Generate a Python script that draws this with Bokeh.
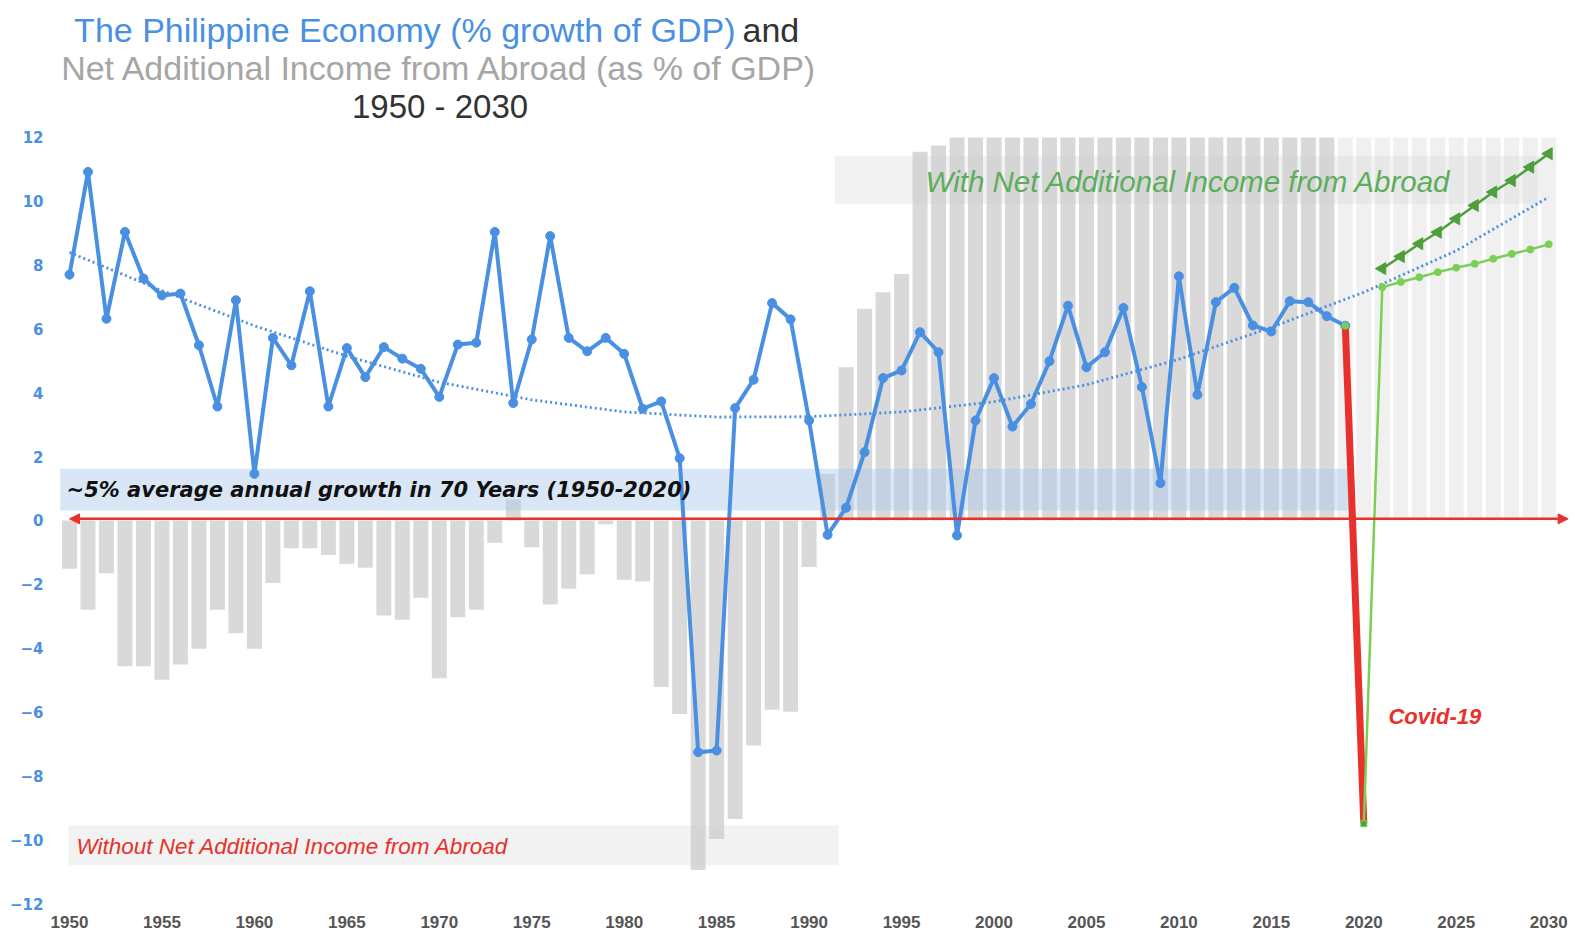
from bokeh.plotting import figure
from bokeh.models import Range1d, FixedTicker, Label, Arrow, NormalHead
from bokeh.embed import file_html
from bokeh.resources import INLINE

# ---------------- data ----------------
gdp_years = list(range(1950, 2020))
gdp_growth = [7.70, 10.92, 6.32, 9.04, 7.58, 7.05, 7.11, 5.49, 3.57, 6.90,
              1.46, 5.72, 4.86, 7.18, 3.57, 5.40, 4.49, 5.43, 5.07, 4.75,
              3.87, 5.51, 5.57, 9.04, 3.68, 5.67, 8.91, 5.72, 5.30, 5.72,
              5.22, 3.50, 3.73, 1.95, -7.26, -7.21, 3.52, 4.41, 6.81, 6.30,
              3.13, -0.45, 0.40, 2.14, 4.46, 4.70, 5.90, 5.27, -0.47, 3.13,
              4.46, 2.94, 3.65, 4.99, 6.73, 4.80, 5.27, 6.66, 4.18, 1.17,
              7.65, 3.94, 6.84, 7.29, 6.11, 5.92, 6.87, 6.84, 6.40, 6.10]

income_years = list(range(1950, 2019))
net_income = [-1.51, -2.80, -1.65, -4.57, -4.57, -4.99, -4.51, -4.02, -2.80, -3.53,
              -4.02, -1.96, -0.87, -0.87, -1.08, -1.36, -1.48, -2.98, -3.11, -2.42,
              -4.94, -3.03, -2.80, -0.70, 0.66, -0.84, -2.63, -2.14, -1.69, -0.12,
              -1.86, -1.91, -5.22, -6.06, -10.95, -9.98, -9.35, -7.05, -5.93, -5.99,
              -1.46, 1.46, 4.80, 6.63, 7.15, 7.72, 11.55, 11.75, 12.0, 12.0,
              12.0, 12.0, 12.0, 12.0, 12.0, 12.0, 12.0, 12.0, 12.0, 12.0,
              12.0, 12.0, 12.0, 12.0, 12.0, 12.0, 12.0, 12.0, 12.0]

proj_years = list(range(2019, 2031))
proj_income = [12.0, 12.0, 12.0, 12.0, 12.0, 12.0, 12.0, 12.0, 12.0, 12.0, 12.0, 12.0]

covid_years = [2019, 2020]
covid_growth = [6.10, -9.50]

rebound_years = [2020, 2021]
rebound_growth = [-9.50, 7.31]

fcst_years = list(range(2021, 2031))
fcst_with_income = [7.89, 8.27, 8.67, 9.03, 9.45, 9.87, 10.29, 10.65, 11.07, 11.49]
fcst_without_income = [7.31, 7.47, 7.62, 7.78, 7.92, 8.04, 8.20, 8.35, 8.49, 8.65]

trend_years = [1950, 1955, 1960, 1965, 1970, 1975, 1980, 1985, 1990,
               1995, 2000, 2005, 2010, 2015, 2020, 2025, 2030]
trend_values = [8.40, 7.20, 6.10, 5.15, 4.33, 3.78, 3.40, 3.24, 3.25,
                3.40, 3.72, 4.25, 5.05, 6.05, 7.15, 8.45, 10.13]

x_ticks = list(range(1950, 2031, 5))
y_ticks = list(range(-12, 13, 2))

# ---------------- styles ----------------
BLUE = "#4a90e2"
RED = "#e8312a"
LGREEN = "#7ccf55"
DGREEN = "#4f9e3c"
FONT = "Liberation Sans"
WIDE = "DejaVu Sans"

p = figure(width=1572, height=936,
           x_range=Range1d(1949.351, 2031.287), y_range=Range1d(-12, 16.29),
           min_border_left=57, min_border_right=0, min_border_top=0, min_border_bottom=33,
           output_backend="svg", toolbar_location=None)
p.outline_line_color = None
p.xgrid.visible = False
p.ygrid.visible = False

for ax in (p.xaxis[0], p.yaxis[0]):
    ax.axis_line_color = None
    ax.major_tick_line_color = None
    ax.minor_tick_line_color = None
    ax.major_tick_out = 0
    ax.major_tick_in = 0
    ax.major_label_text_font_style = "bold"

p.xaxis.ticker = FixedTicker(ticks=x_ticks)
p.xaxis.major_label_text_font = FONT
p.xaxis.major_label_text_font_size = "17px"
p.xaxis.major_label_text_color = "#555555"
p.xaxis.major_label_standoff = 12

p.yaxis.ticker = FixedTicker(ticks=y_ticks)
p.yaxis.major_label_text_font = WIDE
p.yaxis.major_label_text_font_size = "15px"
p.yaxis.major_label_text_color = BLUE
p.yaxis.major_label_standoff = 14

# bars
p.vbar(x=income_years, top=net_income, bottom=0, width=0.81,
       fill_color="#d9d9d9", line_color=None)
p.vbar(x=proj_years, top=proj_income, bottom=0, width=0.81,
       fill_color="#f0f0f0", line_color=None)

# grey label bands
p.quad(left=[1991.4, 1949.95], right=[2029.6, 1991.6], bottom=[9.92, -10.8], top=[11.43, -9.56],
       fill_color="#cccccc", fill_alpha=0.25, line_color=None)
# blue average band
p.quad(left=[1949.5], right=[2019.2], bottom=[0.31], top=[1.62],
       fill_color="#a8c8ec", fill_alpha=0.45, line_color=None)

# trend
p.line(trend_years, trend_values, line_color=BLUE, line_width=2.8, line_dash="2 3")

# zero axis arrow
zero_arrow = Arrow(x_start=1950.0, y_start=0.05, x_end=2031.05, y_end=0.05,
                   line_color=RED, line_width=2.5, level="glyph",
                   start=NormalHead(size=10, fill_color=RED, line_color=RED),
                   end=NormalHead(size=10, fill_color=RED, line_color=RED))
p.add_layout(zero_arrow)

# GDP growth
p.line(gdp_years, gdp_growth, line_color=BLUE, line_width=4, line_join="round")
p.scatter(gdp_years, gdp_growth, size=9, fill_color=BLUE, line_color=BLUE)

# covid drop
p.line(covid_years, covid_growth, line_color=RED, line_width=7)
# rebound & forecasts
p.line(rebound_years, rebound_growth, line_color=LGREEN, line_width=2.5)
p.line(fcst_years, fcst_without_income, line_color=LGREEN, line_width=2.5)
p.scatter(fcst_years, fcst_without_income, size=7, fill_color=LGREEN, line_color=LGREEN)
p.line(fcst_years, fcst_with_income, line_color=DGREEN, line_width=2.5)
p.scatter(fcst_years, fcst_with_income, marker="triangle", size=12, angle=1.5708,
          fill_color=DGREEN, line_color=DGREEN)
p.scatter([covid_years[0]], [covid_growth[0]], size=7, fill_color=LGREEN, line_color=LGREEN)
p.scatter([rebound_years[0]], [rebound_growth[0]], marker="square", size=6,
          fill_color=DGREEN, line_color=LGREEN)

# annotations
def lab(x, y, text, size, color, style="normal", align="left", baseline="middle", font=FONT):
    p.add_layout(Label(x=x, y=y, text=text, text_font=font, text_font_size=size,
                       text_color=color, text_font_style=style, text_align=align,
                       text_baseline=baseline))

lab(1949.84, 0.94, "~5% average annual growth in 70 Years (1950-2020)", "21px", "#111111",
    "bold italic", font=WIDE)
lab(1996.3, 10.62, "With Net Additional Income from Abroad", "29.5px", "#5cad5c", "italic")
lab(1950.38, -10.21, "Without  Net Additional Income from Abroad", "22.5px", RED, "italic")
lab(2021.33, -6.14, "Covid-19", "22px", RED, "bold italic")

# title
lab(1986.02, 15.36, "The Philippine Economy (% growth of GDP)", "34px", BLUE, align="right", baseline="alphabetic")
lab(1986.40, 15.36, "and", "34px", "#333333", baseline="alphabetic")
lab(1970.04, 14.16, "Net Additional Income from Abroad (as % of GDP)", "34px", "#a6a6a6", align="center", baseline="alphabetic")
lab(1970.04, 12.97, "1950 - 2030", "33px", "#333333", align="center", baseline="alphabetic")

open("out.html", "w").write(file_html(p, INLINE))
